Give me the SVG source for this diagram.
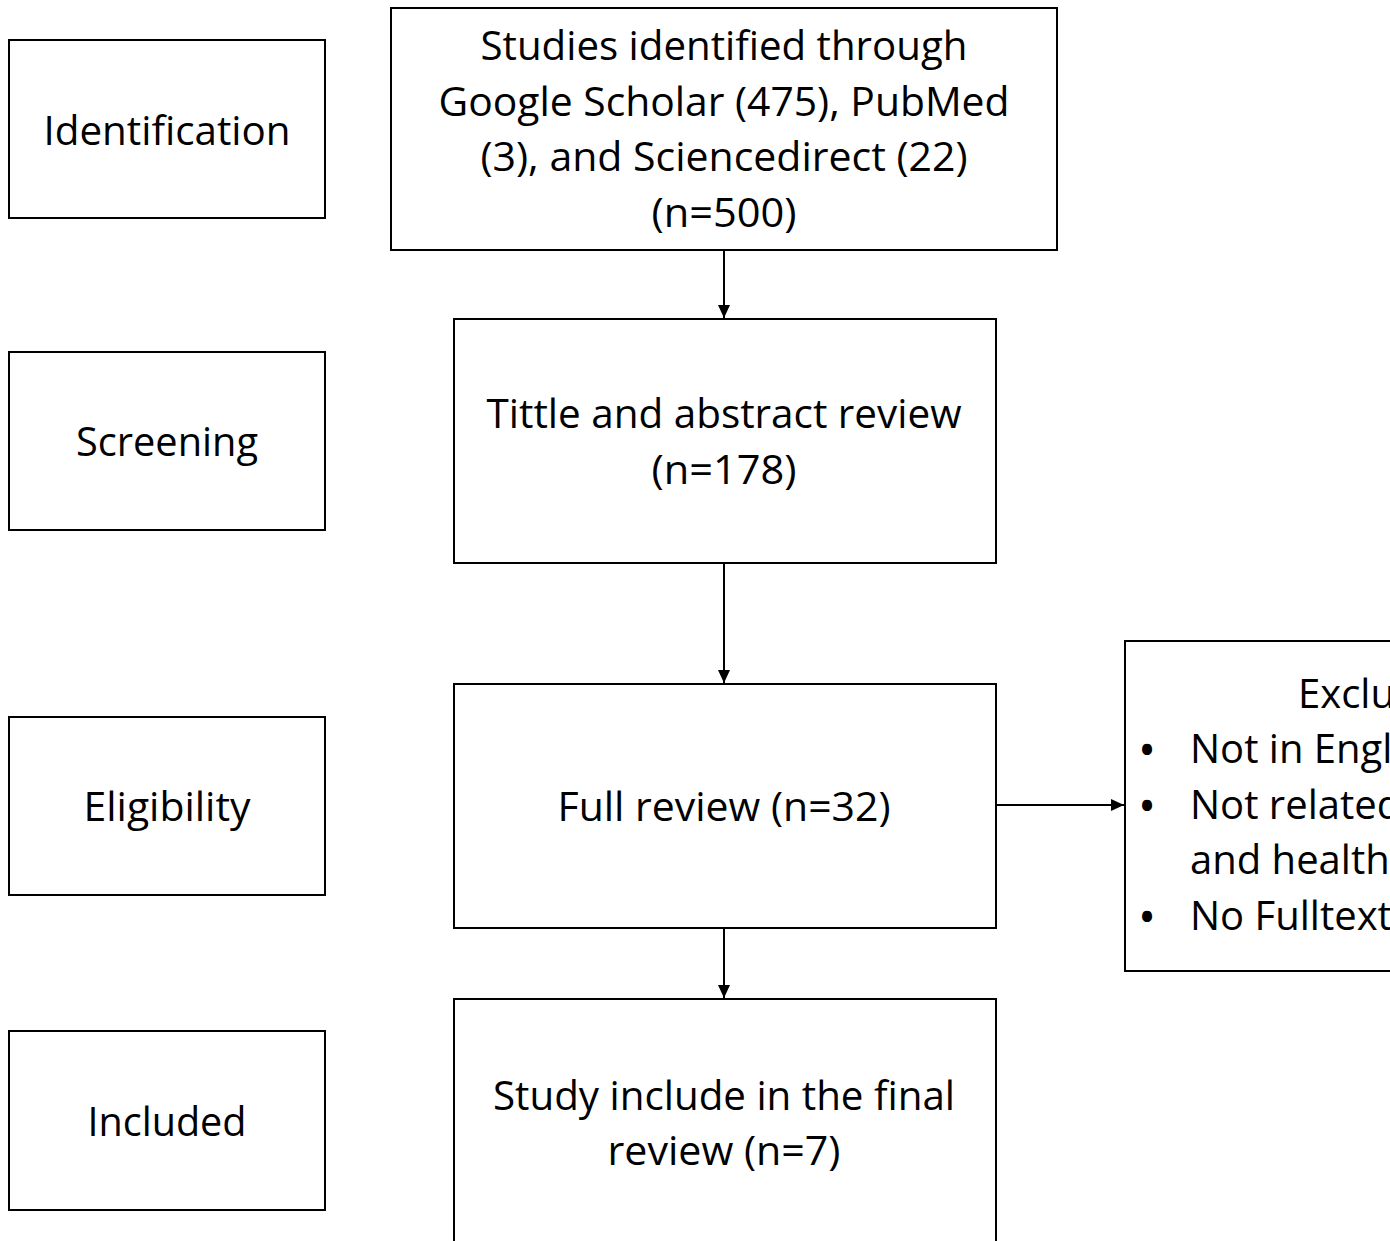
<svg xmlns="http://www.w3.org/2000/svg" width="1390" height="1241" viewBox="0 0 1390 1241">
<defs>
<marker id="arr" markerUnits="userSpaceOnUse" markerWidth="13" markerHeight="13" viewBox="0 0 13 13" refX="13" refY="6.5" orient="auto">
<path d="M0,0.5 L13,6.5 L0,12.5 Z" fill="#000"/>
</marker>
<style>
.box{fill:#fff;stroke:#000;stroke-width:2}
.t{font-family:"Open Sans","Noto Sans","Liberation Sans",sans-serif;font-size:40px;fill:#000;text-anchor:middle}
.l{text-anchor:start}
.b{font-size:48px}
.c{stroke:#000;stroke-width:2;fill:none}
</style>
</defs>
<rect width="1390" height="1241" fill="#fff"/>
<g id="stage-identification">
<rect class="box" x="9" y="40" width="316" height="178"/>
<text class="t" x="167" y="145" textLength="247" lengthAdjust="spacingAndGlyphs">Identification</text>
</g>
<g id="stage-screening">
<rect class="box" x="9" y="352" width="316" height="178"/>
<text class="t" x="167" y="456" textLength="182" lengthAdjust="spacingAndGlyphs">Screening</text>
</g>
<g id="stage-eligibility">
<rect class="box" x="9" y="717" width="316" height="178"/>
<text class="t" x="167" y="821" textLength="167" lengthAdjust="spacingAndGlyphs">Eligibility</text>
</g>
<g id="stage-included">
<rect class="box" x="9" y="1031" width="316" height="179"/>
<text class="t" x="167" y="1136" textLength="159" lengthAdjust="spacingAndGlyphs">Included</text>
</g>
<g id="identified">
<rect class="box" x="391" y="8" width="666" height="242"/>
<text class="t" x="724" y="60" textLength="487" lengthAdjust="spacingAndGlyphs">Studies identified through</text>
<text class="t" x="724" y="116" textLength="571" lengthAdjust="spacingAndGlyphs">Google Scholar (475), PubMed</text>
<text class="t" x="724" y="171" textLength="487" lengthAdjust="spacingAndGlyphs">(3), and Sciencedirect (22)</text>
<text class="t" x="724" y="227" textLength="145" lengthAdjust="spacingAndGlyphs">(n=500)</text>
</g>
<g id="title-abstract">
<rect class="box" x="454" y="319" width="542" height="244"/>
<text class="t" x="724" y="428" textLength="475" lengthAdjust="spacingAndGlyphs">Tittle and abstract review</text>
<text class="t" x="724" y="484" textLength="145" lengthAdjust="spacingAndGlyphs">(n=178)</text>
</g>
<g id="full-review">
<rect class="box" x="454" y="684" width="542" height="244"/>
<text class="t" x="724" y="821" textLength="333" lengthAdjust="spacingAndGlyphs">Full review (n=32)</text>
</g>
<g id="final">
<rect class="box" x="454" y="999" width="542" height="260"/>
<text class="t" x="724" y="1110" textLength="462" lengthAdjust="spacingAndGlyphs">Study include in the final</text>
<text class="t" x="724" y="1165" textLength="233" lengthAdjust="spacingAndGlyphs">review (n=7)</text>
</g>
<g id="exclusion">
<rect class="box" x="1125" y="641" width="300" height="330"/>
<text class="t l" x="1298" y="708">Exclusion</text>
<text class="t l b" x="1138" y="767">•</text>
<text class="t l" x="1190" y="763">Not in English</text>
<text class="t l b" x="1138" y="823">•</text>
<text class="t l" x="1190" y="819">Not related</text>
<text class="t l" x="1190" y="874">and health</text>
<text class="t l b" x="1138" y="934">•</text>
<text class="t l" x="1190" y="930">No Fulltext</text>
</g>
<g id="connectors">
<line class="c" x1="724" y1="250" x2="724" y2="318" marker-end="url(#arr)"/>
<line class="c" x1="724" y1="563" x2="724" y2="683" marker-end="url(#arr)"/>
<line class="c" x1="724" y1="928" x2="724" y2="998" marker-end="url(#arr)"/>
<line class="c" x1="996" y1="805" x2="1124" y2="805" marker-end="url(#arr)"/>
</g>
</svg>
